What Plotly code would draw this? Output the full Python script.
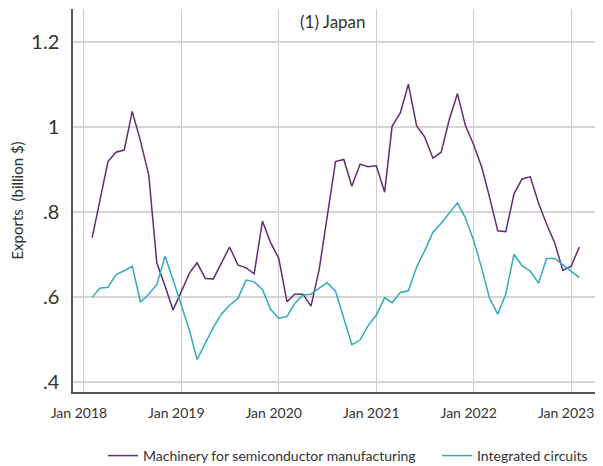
import pandas as pd
import plotly.graph_objects as go

# Monthly data, Feb 2018 - Feb 2023 (billion $)
months = pd.date_range("2018-02-01", periods=61, freq="MS")

machinery = [
    0.739, 0.821, 0.918, 0.940, 0.945, 1.036, 0.966, 0.886, 0.680, 0.625,
    0.569, 0.612, 0.656, 0.680, 0.643, 0.642, 0.679, 0.717, 0.675, 0.668,
    0.654, 0.778, 0.728, 0.691, 0.588, 0.606, 0.606, 0.578, 0.665, 0.795,
    0.918, 0.923, 0.860, 0.912, 0.906, 0.908, 0.846, 1.001, 1.033, 1.100,
    1.002, 0.976, 0.926, 0.940, 1.016, 1.078, 1.002, 0.957, 0.903, 0.835,
    0.755, 0.753, 0.842, 0.877, 0.882, 0.820, 0.771, 0.726, 0.662, 0.672,
    0.717,
]

integrated = [
    0.599, 0.620, 0.622, 0.652, 0.661, 0.672, 0.587, 0.606, 0.629, 0.695,
    0.640, 0.580, 0.520, 0.452, 0.492, 0.528, 0.560, 0.580, 0.596, 0.639,
    0.635, 0.617, 0.571, 0.549, 0.554, 0.584, 0.604, 0.606, 0.620, 0.633,
    0.613, 0.548, 0.487, 0.498, 0.532, 0.557, 0.598, 0.586, 0.610, 0.614,
    0.670, 0.708, 0.752, 0.773, 0.796, 0.821, 0.785, 0.732, 0.665, 0.597,
    0.559, 0.606, 0.700, 0.673, 0.660, 0.632, 0.690, 0.690, 0.675, 0.660,
    0.645,
]

series_names = ["Machinery for semiconductor manufacturing", "Integrated circuits"]
series_colors = ["#632b76", "#30aabf"]

y_ticks = [0.4, 0.6, 0.8, 1.0, 1.2]
y_tick_text = [".4", ".6", ".8", "1", "1.2"]

x_ticks = ["2018-01-01", "2019-01-01", "2020-01-01", "2021-01-01", "2022-01-01", "2023-01-01"]
x_tick_text = ["Jan 2018", "Jan 2019", "Jan 2020", "Jan 2021", "Jan 2022", "Jan 2023"]

x_range = ["2017-11-21", "2023-04-08"]

# The page body has an 8px default margin; the figure is sized to fill the rest.
W, H = 595, 458

fig = go.Figure()
for i, (name, vals, col) in enumerate(zip(series_names, [machinery, integrated], series_colors)):
    fig.add_trace(go.Scatter(x=months, y=vals, mode="lines", name=name,
                             legend="legend" if i == 0 else "legend2",
                             line=dict(color=col, width=1.5)))

font_family = "Lato, 'Open Sans', sans-serif"
legend_common = dict(orientation="h", xanchor="left", xref="container",
                     y=1 - 448 / H, yanchor="middle", yref="container",
                     font=dict(size=14, color="#333333"), bgcolor="rgba(0,0,0,0)")
fig.update_layout(
    width=W, height=H,
    margin=dict(l=65, r=6, t=1, b=74, autoexpand=False),
    paper_bgcolor="white", plot_bgcolor="white",
    font=dict(family=font_family, color="#333333"),
    showlegend=True,
    legend=dict(x=95 / W, **legend_common),
    legend2=dict(x=429 / W, **legend_common),
    xaxis=dict(type="date", range=x_range, tickvals=x_ticks, ticktext=x_tick_text,
               showgrid=True, gridcolor="#cfcfcf", gridwidth=1,
               showline=True, linecolor="#555555", linewidth=1.5,
               ticks="", zeroline=False, automargin=False, ticklabelstandoff=7,
               ticklabeloverflow="allow", ticklabelshift=-5,
               tickfont=dict(size=14, color="#333333")),
    yaxis=dict(range=[0.3758, 1.277], tickvals=y_ticks, ticktext=y_tick_text,
               showgrid=True, gridcolor="#d6d6d6", gridwidth=1.5,
               showline=True, linecolor="#555555", linewidth=1.5,
               ticks="", zeroline=False, automargin=False, ticklabelstandoff=8,
               tickfont=dict(size=20, color="#333333"),
               title=dict(text="Exports  (billion $)", font=dict(size=15, color="#333333"),
                          standoff=6)),
    annotations=[dict(text="(1) Japan", x=0.497, xref="paper", y=0.967, yref="paper",
                      showarrow=False, font=dict(size=17, color="#333333"),
                      xanchor="center", yanchor="middle")],
)

fig.write_html("out.html")
